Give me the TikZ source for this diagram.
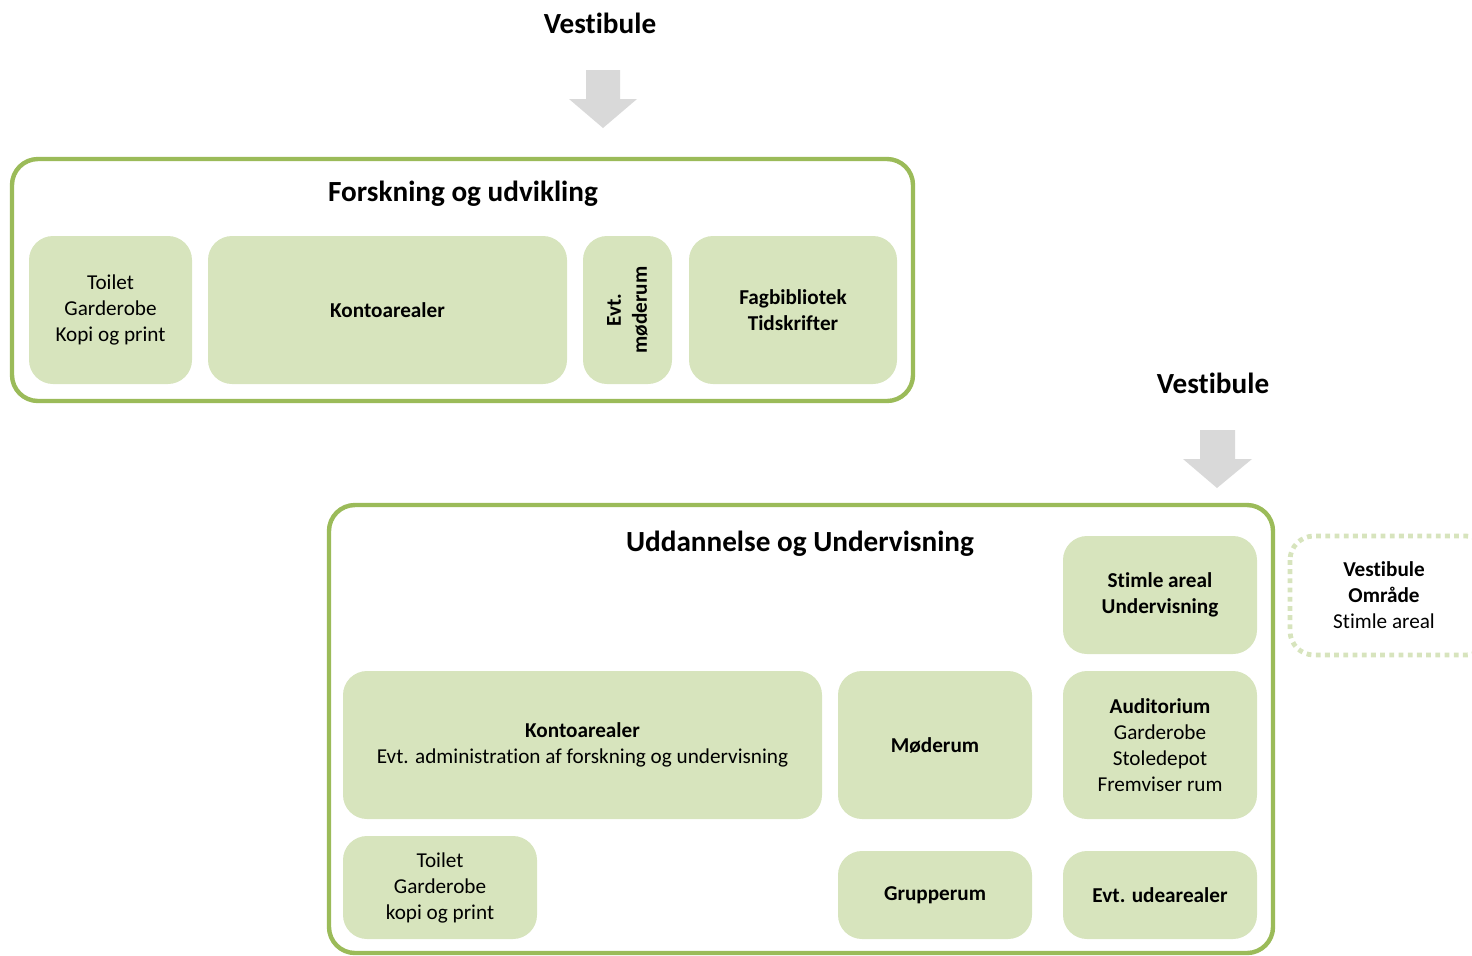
\documentclass[tikz,border=0pt]{standalone}
\usepackage{fontspec}
\setmainfont{Carlito}[Ligatures=NoCommon]
\usetikzlibrary{positioning}
\definecolor{zonegreen}{RGB}{155,187,89}
\definecolor{roomgreen}{RGB}{215,228,189}
\definecolor{arrowgray}{RGB}{217,217,217}

\tikzset{
  zone/.style={draw=zonegreen,line width=2.2pt,rounded corners=13pt,inner sep=0pt},
  room/.style={fill=roomgreen,rounded corners=12pt,align=center,inner sep=0pt,
    font=\fontsize{10.6}{13}\selectfont},
  title/.style={font=\fontsize{14.6}{17}\selectfont\bfseries},
  blockarrow/.style={fill=arrowgray},
}

\begin{document}
\begin{tikzpicture}[x=0.5pt,y=-0.5pt]
  \useasboundingbox (0,0) rectangle (1472,955);
  % Forskning og udvikling
  \node[title] (vestA) at (600,23) {Vestibule};
  \fill[blockarrow] (586,70) -- (620,70) -- (620,99) -- (637,99) -- (603,128)
    -- (569,99) -- (586,99) -- cycle;
  \node[zone,minimum width=450.5pt,minimum height=121pt] (fou) at (462.5,280) {};
  \node[title] (fouT) at (463,194) {Forskning og udvikling};
  \node[room,minimum width=81.5pt,minimum height=74pt] (toilA) at (110.5,310)
    {Toilet\\Garderobe\\Kopi og print};
  \node[room,minimum width=179.5pt,minimum height=74pt] (kontoA) at (387.5,310)
    {\bfseries Kontoarealer};
  \node[room,minimum width=44.5pt,minimum height=74pt] (modeA) at (627.5,310) {};
  \node[rotate=90,align=center,font=\fontsize{10.6}{13}\selectfont\bfseries] at (modeA)
    {Evt.\\møderum};
  \node[room,minimum width=104pt,minimum height=74pt] (fagA) at (793,310)
    {\bfseries Fagbibliotek\\\bfseries Tidskrifter};
  % Uddannelse og Undervisning
  \node[title] (vestB) at (1213,383) {Vestibule};
  \fill[blockarrow] (1200,430) -- (1235,430) -- (1235,459) -- (1252,459) -- (1217,488)
    -- (1183,459) -- (1200,459) -- cycle;
  \node[zone,minimum width=472pt,minimum height=224pt] (udd) at (801,729) {};
  \node[title] (uddT) at (800,544) {Uddannelse og Undervisning};
  \node[room,minimum width=97pt,minimum height=59pt] (stimle) at (1160,595)
    {\bfseries Stimle areal\\\bfseries Undervisning};
  \node[room,minimum width=239.5pt,minimum height=74pt] (kontoB) at (582.5,745)
    {\bfseries Kontoarealer\\Evt. administration af forskning og undervisning};
  \node[room,minimum width=97pt,minimum height=74pt] (moderum) at (935,745)
    {\bfseries Møderum};
  \node[room,minimum width=97pt,minimum height=74pt] (audit) at (1160,745)
    {\bfseries Auditorium\\Garderobe\\Stoledepot\\Fremviser rum};
  \node[room,minimum width=97pt,minimum height=51.5pt] (toilB) at (440,887.5)
    {Toilet\\Garderobe\\kopi og print};
  \node[room,minimum width=97pt,minimum height=44pt] (grupp) at (935,895)
    {\bfseries Grupperum};
  \node[room,minimum width=97pt,minimum height=44pt] (udear) at (1160,895)
    {\bfseries Evt. udearealer};
  % Vestibule omraade
  \draw[roomgreen,line width=2.4pt,dash pattern=on 2.4pt off 2.2pt,rounded corners=12pt]
    (1290,536) rectangle (1490,655);
  \node[align=center,font=\fontsize{10.6}{13}\selectfont] (vomr) at (1384,595)
    {\bfseries Vestibule\\\bfseries Område\\Stimle areal};
\end{tikzpicture}
\end{document}
